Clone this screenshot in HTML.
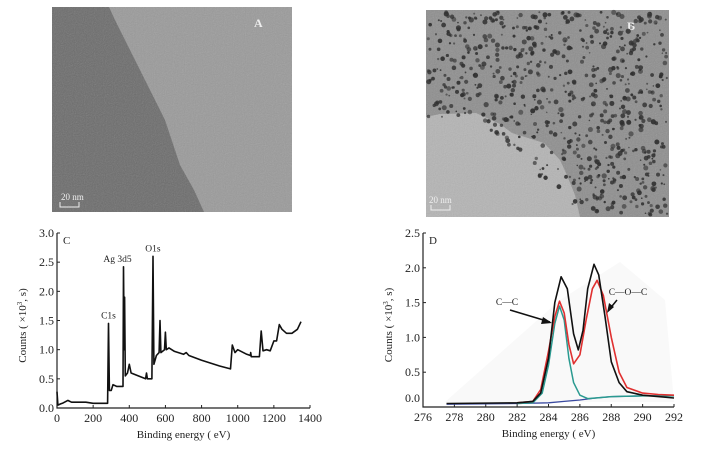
<!DOCTYPE html>
<html><head><meta charset="utf-8"><style>
body{margin:0;background:#fff;width:703px;height:462px;overflow:hidden;font-family:"Liberation Serif",serif}
svg{position:absolute;left:0;top:0}
text{font-family:"Liberation Serif",serif;fill:#222}
</style></head><body>
<svg id="s" width="703" height="462">
<defs>
<filter id="noise" x="0" y="0" width="100%" height="100%"><feTurbulence type="fractalNoise" baseFrequency="0.9" numOctaves="2" seed="3"/><feColorMatrix type="saturate" values="0"/><feComponentTransfer><feFuncA type="linear" slope="0.25"/></feComponentTransfer></filter>
</defs>
<g>
<rect x="52" y="7" width="240" height="205" fill="#9a9a9a"/>
<polygon points="52,7 109,7 115,20 140,70 165,120 180,165 194,190 204,212 52,212" fill="#6c6c6c"/>
<rect x="52" y="7" width="240" height="205" filter="url(#noise)"/>
<text x="254" y="27" font-size="12" font-weight="bold" style="fill:#eee">A</text>
<text x="61" y="200" font-size="9" style="fill:#eee">20 nm</text>
<path d="M60 202 v5 h19 v-5" stroke="#eee" fill="none"/>
</g>
<g id="gb">
<rect x="426" y="10" width="243" height="207" fill="#8e8e8e"/>
<path d="M426 117 L440 114 L476 113 L500 124 L512 133 L544 143 L560 160 L566 173 L575 195 L580 217 L426 217Z" fill="#b4b4b4"/>
<rect x="426" y="10" width="243" height="207" filter="url(#noise)"/>
<text x="627" y="30" font-size="12" font-weight="bold" style="fill:#eee">B</text>
<text x="429" y="203" font-size="9" style="fill:#eee">20 nm</text>
<path d="M431 205 v5 h19 v-5" stroke="#eee" fill="none"/>
</g>
<g id="c"></g>
<g id="d"></g>
</svg>
<script>
const NS="http://www.w3.org/2000/svg";
function mk(p,t,a){const e=document.createElementNS(NS,t);for(const k in a)e.setAttribute(k,a[k]);p.appendChild(e);return e;}
// dots in B (texture, not data)
const gb=document.getElementById('gb');
let seed=7;function rnd(){seed=(seed*16807)%2147483647;return seed/2147483647;}
for(let i=0;i<900;i++){const x=428+rnd()*239,y=12+rnd()*203;
 const inLight=(y>117+ (x<476?0:(x-476)*0.95) && x<580);
 if(inLight)continue;
 const c=mk(gb,'circle',{cx:x,cy:y,r:(0.8+rnd()*1.8).toFixed(1),fill:'#303030','fill-opacity':(0.55+rnd()*0.4).toFixed(2)});
 
 }

// ---------- Chart C data ----------
const cEnergy=[0,5,20,30,60,80,100,160,200,280,285,290,300,310,330,365,368,372,374,378,390,400,410,450,490,495,500,525,531,536,550,565,570,575,595,600,605,620,650,700,715,730,800,900,960,970,985,1000,1050,1070,1072,1075,1120,1130,1140,1160,1180,1200,1215,1230,1245,1270,1300,1330,1350];
const cCounts=[0.28,0.05,0.07,0.08,0.13,0.1,0.1,0.1,0.08,0.08,1.45,0.3,0.3,0.4,0.37,0.37,2.42,1.0,1.9,0.55,0.6,0.75,0.6,0.55,0.5,0.6,0.5,0.5,2.6,0.75,0.9,0.95,1.5,0.95,1.0,1.3,1.0,1.03,0.97,0.92,0.95,0.9,0.82,0.72,0.67,1.08,0.95,1.0,0.92,0.9,0.95,0.88,0.88,1.32,0.98,1.0,0.98,1.15,1.15,1.43,1.35,1.28,1.28,1.35,1.48];
const cXTicks=[0,200,400,600,800,1000,1200,1400];
const cYTicks=[0,0.5,1.0,1.5,2.0,2.5,3.0];
const cPeakNames=["C1s","Ag 3d5","O1s"];
const cPeakE=[285,368,531];
const cPeakC=[1.45,2.42,2.6];

// ---------- Chart D data ----------
const dXTicks=[276,278,280,282,284,286,288,290,292];
const dYTicks=[0,0.5,1.0,1.5,2.0,2.5];
const dSumE=[277.5,282,283,283.5,284,284.4,284.8,285.2,285.6,285.9,286.2,286.5,286.9,287.2,287.6,288,288.5,289,290,291,292];
const dSumC=[0.05,0.06,0.08,0.2,0.7,1.5,1.87,1.7,1.05,0.82,1.1,1.7,2.05,1.9,1.3,0.65,0.35,0.22,0.17,0.15,0.13];
const dFitE=[282,283,283.5,284,284.4,284.7,285,285.3,285.6,286,286.4,286.8,287.1,287.5,288,288.5,289,290,291,292];
const dFitC=[0.06,0.08,0.25,0.8,1.3,1.52,1.35,0.9,0.62,0.75,1.25,1.7,1.82,1.6,1.0,0.5,0.28,0.2,0.18,0.17];
const dCCE=[282,283,283.6,284,284.4,284.7,285,285.3,285.6,286,286.5,287,288,290,292];
const dCCC=[0.05,0.06,0.2,0.6,1.2,1.45,1.25,0.7,0.35,0.17,0.12,0.13,0.15,0.16,0.16];
const dBgE=[277.5,282,284,285,286,287,288,290,292];
const dBgC=[0.04,0.05,0.06,0.08,0.1,0.13,0.15,0.16,0.16];

function axisChart(g,o){
 const X=v=>o.x0+(v-o.xmin)/(o.xmax-o.xmin)*(o.x1-o.x0);
 const Y=v=>o.y0-(v-o.ymin)/(o.ymax-o.ymin)*(o.y0-o.y1);
 let a=mk(g,'path',{d:`M${o.x0} ${o.y1} V${o.y0} H${o.x1}`,stroke:'#222',fill:'none','stroke-width':1.2});
 
 o.xt.forEach(v=>{mk(g,'line',{x1:X(v),x2:X(v),y1:o.y0,y2:o.y0-3,stroke:'#222'});
  const t=mk(g,'text',{x:X(v),y:o.y0+14,'font-size':12,'text-anchor':'middle'});t.textContent=String(v);
  });
 o.yt.forEach(v=>{mk(g,'line',{x1:o.x0,x2:o.x0+3,y1:Y(v),y2:Y(v),stroke:'#222'});
  const t=mk(g,'text',{x:o.x0-3,y:Y(v)+4-(v===0?o.zoff:0),'font-size':12,'text-anchor':'end'});t.textContent=v.toFixed(1);
  });
 let t=mk(g,'text',{x:(o.x0+o.x1)/2,y:o.y0+30,'font-size':11,'text-anchor':'middle'});t.textContent='Binding  energy ( eV)';
 
 t=mk(g,'text',{x:0,y:0,'font-size':11,'text-anchor':'middle',transform:`translate(${o.x0-31},${(o.y0+o.y1)/2+5}) rotate(-90)`});
 t.innerHTML='Counts ( ×10<tspan font-size="7" dy="-4">3</tspan><tspan dy="4">, s)</tspan>';
 
 t=mk(g,'text',{x:o.x0+6,y:o.y1+11,'font-size':11});t.textContent=o.label;
 
 return {X,Y};
}
function line(g,s,E,C,col,w,name){
 const p=mk(g,'path',{d:E.map((e,i)=>(i?'L':'M')+s.X(e).toFixed(1)+' '+s.Y(C[i]).toFixed(1)).join(' '),stroke:col,fill:'none','stroke-width':w,'stroke-linejoin':'round'});
 
}
const gc=document.getElementById('c');
const sc=axisChart(gc,{x0:57,x1:310,y0:408,y1:233,xmin:0,xmax:1400,ymin:0,ymax:3,xt:cXTicks,yt:cYTicks,label:'C',zoff:0});
line(gc,sc,cEnergy,cCounts,'#111',1.6,'survey-spectrum');
cPeakNames.forEach((n,i)=>{const t=mk(gc,'text',{x:sc.X(cPeakE[i])-(i==1?6:0),y:sc.Y(cPeakC[i])-5,'font-size':9.5,'text-anchor':'middle'});t.textContent=n;
 });

const gd=document.getElementById('d');
mk(gd,'polygon',{points:'445,402 560,300 620,262 665,300 674,402',fill:'#f9f9f9'});
const sd=axisChart(gd,{x0:423,x1:674,y0:407,y1:233,xmin:276,xmax:292,ymin:0,ymax:2.5,xt:dXTicks,yt:dYTicks,label:'D',zoff:9});
line(gd,sd,dBgE,dBgC,'#3a4aa0',1.3,'background-line');
line(gd,sd,dCCE,dCCC,'#2a9a90',1.5,'cc-component');
line(gd,sd,dFitE,dFitC,'#e03030',1.6,'fit-envelope');
line(gd,sd,dSumE,dSumC,'#111',1.6,'measured-spectrum');
let t=mk(gd,'text',{x:507,y:305,'font-size':9.5,'text-anchor':'middle'});t.textContent='C—C';

t=mk(gd,'text',{x:628,y:295,'font-size':9.5,'text-anchor':'middle'});t.textContent='C—O—C';

mk(gd,'path',{d:'M510 310 L550 322',stroke:'#111','stroke-width':1.5});
mk(gd,'polygon',{points:'552,323 543,317 541,324',fill:'#111'});
mk(gd,'path',{d:'M617 300 L608 311',stroke:'#111','stroke-width':1.5});
mk(gd,'polygon',{points:'607,313 609,303 614,307',fill:'#111'});
</script>
</body></html>
